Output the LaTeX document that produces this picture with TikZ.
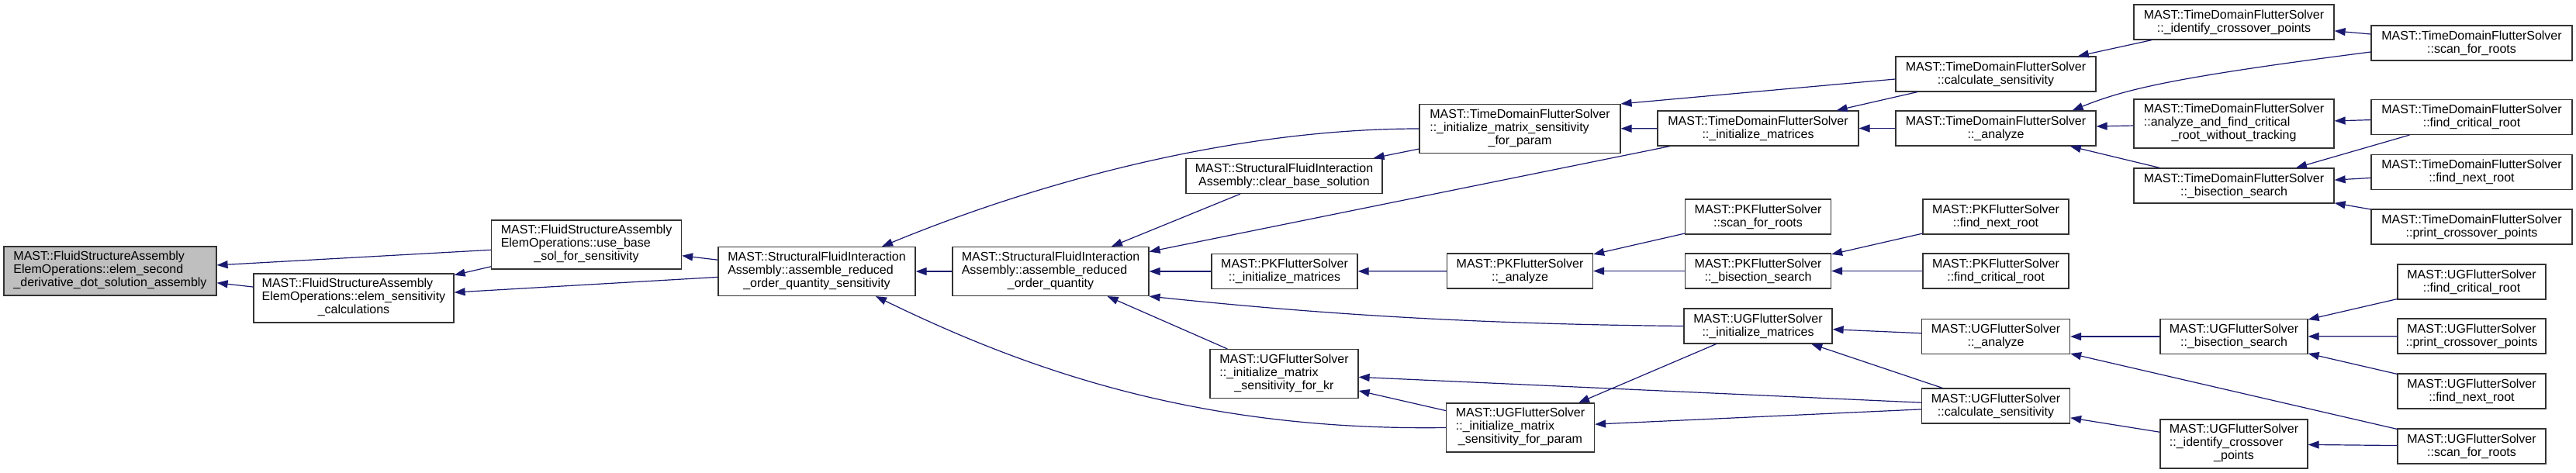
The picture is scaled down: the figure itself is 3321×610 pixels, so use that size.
\documentclass[tikz,border=0pt]{standalone}
\usepackage{fontspec}
\setmainfont{Liberation Sans}
\usetikzlibrary{arrows.meta}

\definecolor{edgeblue}{HTML}{191970}
\definecolor{rootgray}{HTML}{BFBFBF}

% first lines left, last line centred
\newcommand{\threeln}[3]{\begin{tabular}{@{}l@{}}#1\\#2\\\multicolumn{1}{@{}c@{}}{#3}\end{tabular}}

\begin{document}
\begin{tikzpicture}[x=1pt,y=-1pt,
  fn/.style={draw=black!80,line width=1.2pt,fill=white,inner sep=0pt,align=center,
    font=\fontsize{16}{17}\selectfont,minimum height=45pt},
  tall/.style={minimum height=63pt},
  root/.style={fn,tall,fill=rootgray},
  td/.style={fn,minimum width=258pt},
  pk/.style={fn,minimum width=188pt},
  ug/.style={fn,minimum width=191pt},
  callarrow/.style={draw=edgeblue,line width=1.2pt,-{Triangle[length=14pt,width=10pt]}}]

\useasboundingbox (0,0) rectangle (3321,610);

% Root function
\node[root,minimum width=274pt] (elemsecond) at (142,349.5)
  {\threeln{MAST::FluidStructureAssembly}{ElemOperations::elem\_second}{\_derivative\_dot\_solution\_assembly}};

% Assembly operations
\node[fn,tall,minimum width=258pt] (elemsens) at (456,384.5)
  {\threeln{MAST::FluidStructureAssembly}{ElemOperations::elem\_sensitivity}{\_calculations}};
\node[fn,tall,minimum width=245pt] (usebase) at (756,315.5)
  {\threeln{MAST::FluidStructureAssembly}{ElemOperations::use\_base}{\_sol\_for\_sensitivity}};
\node[fn,tall,minimum width=254pt] (aroqs) at (1053,350)
  {\threeln{MAST::StructuralFluidInteraction}{Assembly::assemble\_reduced}{\_order\_quantity\_sensitivity}};
\node[fn,tall,minimum width=253pt] (aroq) at (1354.5,350)
  {\threeln{MAST::StructuralFluidInteraction}{Assembly::assemble\_reduced}{\_order\_quantity}};
\node[fn,minimum width=253pt] (clearbase) at (1655.5,227)
  {MAST::StructuralFluidInteraction\\Assembly::clear\_base\_solution};

% Matrix setup
\node[pk] (pkinit) at (1656,350) {MAST::PKFlutterSolver\\::\_initialize\_matrices};
\node[ug,tall] (ugkr) at (1655.5,482)
  {\threeln{MAST::UGFlutterSolver}{::\_initialize\_matrix}{\_sensitivity\_for\_kr}};
\node[td,tall,minimum width=259pt] (tdsensparam) at (1959.5,166)
  {\threeln{MAST::TimeDomainFlutterSolver}{::\_initialize\_matrix\_sensitivity}{\_for\_param}};
\node[pk] (pkanalyze) at (1959.5,349.5) {MAST::PKFlutterSolver\\::\_analyze};
\node[ug,tall] (ugsensparam) at (1960,551.5)
  {\threeln{MAST::UGFlutterSolver}{::\_initialize\_matrix}{\_sensitivity\_for\_param}};
\node[td,minimum width=259pt] (tdinit) at (2266.5,165.5) {MAST::TimeDomainFlutterSolver\\::\_initialize\_matrices};
\node[pk] (pkscan) at (2266.5,279.5) {MAST::PKFlutterSolver\\::scan\_for\_roots};
\node[pk] (pkbisect) at (2266.5,349.5) {MAST::PKFlutterSolver\\::\_bisection\_search};
\node[ug] (uginit) at (2266.5,420.5) {MAST::UGFlutterSolver\\::\_initialize\_matrices};

% Solvers
\node[td] (tdcalc) at (2573,95.5) {MAST::TimeDomainFlutterSolver\\::calculate\_sensitivity};
\node[td] (tdanalyze) at (2573,165.5) {MAST::TimeDomainFlutterSolver\\::\_analyze};
\node[pk] (pknext) at (2573,279.5) {MAST::PKFlutterSolver\\::find\_next\_root};
\node[pk] (pkcrit) at (2573,349.5) {MAST::PKFlutterSolver\\::find\_critical\_root};
\node[ug] (uganalyze) at (2573,434) {MAST::UGFlutterSolver\\::\_analyze};
\node[ug] (ugcalc) at (2573,523.5) {MAST::UGFlutterSolver\\::calculate\_sensitivity};

\node[td] (tdcross) at (2880,28.5) {MAST::TimeDomainFlutterSolver\\::\_identify\_crossover\_points};
\node[td,tall] (tdanalyzecrit) at (2880,159.5)
  {\threeln{MAST::TimeDomainFlutterSolver}{::analyze\_and\_find\_critical}{\_root\_without\_tracking}};
\node[td] (tdbisect) at (2880,239.5) {MAST::TimeDomainFlutterSolver\\::\_bisection\_search};
\node[fn,minimum width=190pt] (ugbisect) at (2880,434) {MAST::UGFlutterSolver\\::\_bisection\_search};
\node[fn,tall,minimum width=190pt] (ugcross) at (2880,572.5)
  {\threeln{MAST::UGFlutterSolver}{::\_identify\_crossover}{\_points}};

% Right column
\node[td,minimum width=259pt] (tdscan) at (3186.5,55.5) {MAST::TimeDomainFlutterSolver\\::scan\_for\_roots};
\node[td,minimum width=259pt] (tdcrit) at (3186.5,151) {MAST::TimeDomainFlutterSolver\\::find\_critical\_root};
\node[td,minimum width=259pt] (tdnext) at (3186.5,222) {MAST::TimeDomainFlutterSolver\\::find\_next\_root};
\node[td,minimum width=259pt] (tdprint) at (3186.5,292.5) {MAST::TimeDomainFlutterSolver\\::print\_crossover\_points};
\node[ug] (ugcrit) at (3186.5,363.5) {MAST::UGFlutterSolver\\::find\_critical\_root};
\node[ug] (ugprint) at (3186.5,433.5) {MAST::UGFlutterSolver\\::print\_crossover\_points};
\node[ug] (ugnext) at (3186.5,504.5) {MAST::UGFlutterSolver\\::find\_next\_root};
\node[ug] (ugscan) at (3186.5,575.5) {MAST::UGFlutterSolver\\::scan\_for\_roots};

% Calls (caller/callee)
\foreach \a/\b in {usebase/elemsecond,elemsens/elemsecond,usebase/elemsens,aroqs/elemsens,
  aroqs/usebase,aroq/aroqs,clearbase/aroq,tdinit/aroq,pkinit/aroq,ugkr/aroq,
  tdsensparam/clearbase,tdinit/tdsensparam,tdcalc/tdinit,tdanalyze/tdinit,tdcross/tdcalc,
  tdscan/tdcross,tdanalyzecrit/tdanalyze,tdbisect/tdanalyze,tdcrit/tdanalyzecrit,
  tdcrit/tdbisect,tdnext/tdbisect,tdprint/tdbisect,pkanalyze/pkinit,pkscan/pkanalyze,
  pkbisect/pkanalyze,pknext/pkbisect,pkcrit/pkbisect,uganalyze/uginit,ugcalc/uginit,
  uginit/ugsensparam,ugcalc/ugsensparam,ugcalc/ugkr,ugsensparam/ugkr,ugbisect/uganalyze,
  ugscan/uganalyze,ugcross/ugcalc,ugcrit/ugbisect,ugprint/ugbisect,ugnext/ugbisect,
  ugscan/ugcross}
{
\draw[callarrow] (\a) -- (\b);
}

% Bent calls
\draw[callarrow] ([yshift=-6.5pt]tdcalc.west) -- (tdsensparam.north east);
\draw[callarrow] (tdsensparam.west) .. controls (1600,166) and (1350,230) .. ([xshift=84pt]aroqs.north);
\draw[callarrow] (ugsensparam.west) .. controls (1550,556) and (1330,480) .. ([xshift=76pt]aroqs.south);
\draw[callarrow] (uginit.west) .. controls (1900,418) and (1700,405) .. (aroq.south east);
\draw[callarrow] ([yshift=-11.5pt]tdscan.west) .. controls (2800,100) and (2740,115) .. ([xshift=-31pt]tdanalyze.north east);

\end{tikzpicture}
\end{document}
